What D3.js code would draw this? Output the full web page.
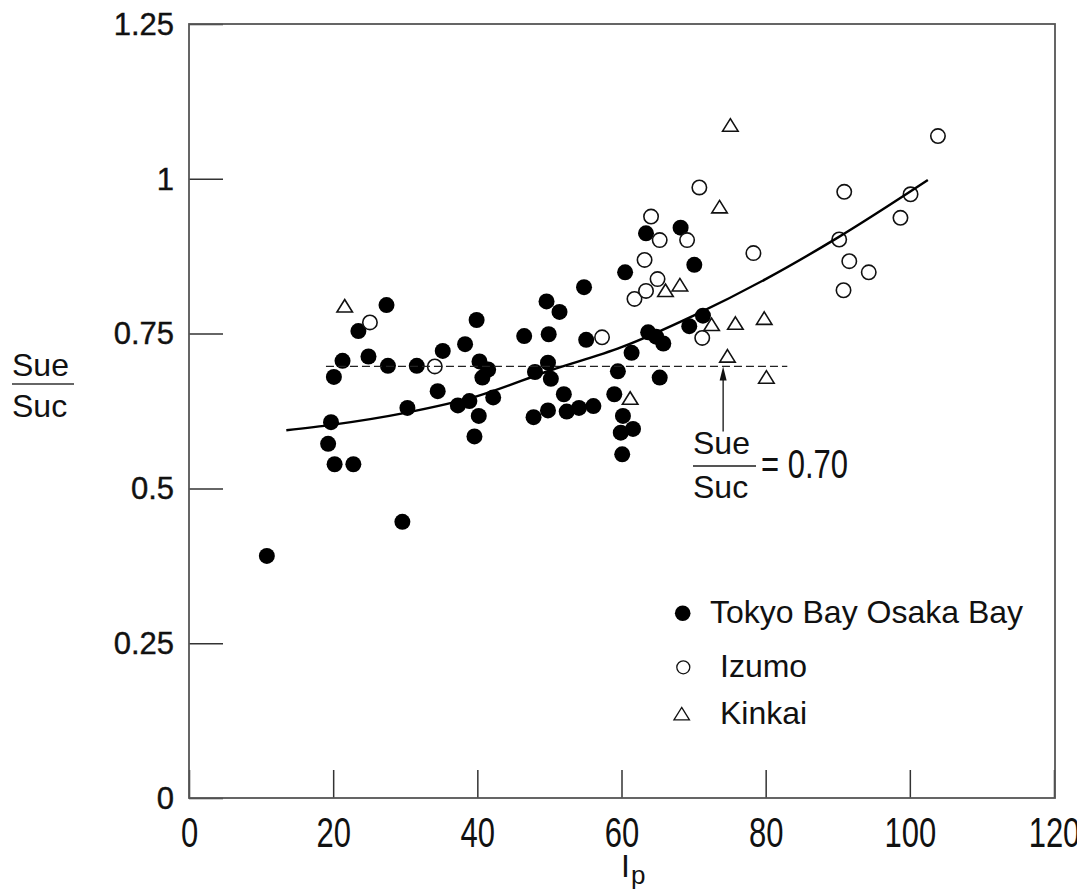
<!DOCTYPE html>
<html>
<head>
<meta charset="utf-8">
<script src="https://cdn.jsdelivr.net/npm/d3@7"></script>
<style>
  body { margin: 0; padding: 0; background: #fff; }
  svg { display: block; font-family: 'Liberation Sans', Arial, Helvetica, sans-serif; }
</style>
</head>
<body>
<div id="main"></div>
<script>
// [Ip, Sue/Suc]
const tokyoOsakaBay = [
    [27.4,0.796],[23.5,0.754],[21.3,0.706],[20.1,0.680],[24.9,0.713],[27.6,0.698],[19.7,0.607],[19.3,0.572],
    [20.2,0.539],[22.8,0.539],[31.6,0.698],[35.2,0.722],[34.5,0.657],[30.3,0.630],[38.3,0.733],[39.9,0.772],
    [40.3,0.705],[41.5,0.692],[40.7,0.679],[37.3,0.634],[38.9,0.641],[42.2,0.647],[40.2,0.617],[39.6,0.584],
    [46.5,0.746],[49.6,0.802],[51.4,0.785],[49.9,0.749],[49.8,0.703],[48.0,0.688],[50.2,0.677],[52.0,0.652],
    [47.8,0.615],[49.8,0.626],[52.4,0.624],[54.1,0.630],[56.1,0.633],[54.8,0.825],[55.1,0.740],[60.5,0.849],
    [59.5,0.689],[59.0,0.652],[60.2,0.617],[59.9,0.590],[60.1,0.555],[61.4,0.719],[63.4,0.912],[68.2,0.921],
    [70.1,0.861],[71.3,0.779],[69.4,0.762],[63.7,0.752],[64.8,0.745],[65.8,0.734],[65.3,0.679],[61.6,0.596],
    [10.8,0.391],[29.6,0.446]
];
const izumo = [
    [25.1,0.768],[34.1,0.697],[57.3,0.744],[61.8,0.806],[63.4,0.819],[65.0,0.838],[63.2,0.869],[64.1,0.939],
    [65.3,0.901],[69.1,0.901],[70.8,0.986],[71.2,0.743],[78.3,0.880],[90.2,0.902],[90.9,0.979],[91.6,0.867],
    [90.8,0.820],[94.3,0.849],[98.7,0.937],[100.1,0.975],[103.9,1.069]
];
const kinkai = [
    [21.6,0.795],[61.2,0.646],[66.1,0.820],[68.1,0.829],[72.5,0.765],[75.8,0.767],[79.8,0.775],[74.7,0.714],
    [80.1,0.680],[73.6,0.955],[75.1,1.087]
];
const trendCurve = [
    [13.5,0.594],[20,0.603],[30,0.622],[40,0.649],[50,0.690],[60,0.728],[70,0.779],[80,0.838],[90,0.905],[102.5,0.998]
];
const thresholdLine = [[19,0.697],[83,0.697]];
const arrowAt = [74.1, 0.592];
const xTicks = [0,20,40,60,80,100,120];
const yTicks = [0,0.25,0.5,0.75,1,1.25];
const yTickLabels = ['0','0.25','0.5','0.75','1','1.25'];
const legendLabels = ['Tokyo Bay Osaka Bay','Izumo','Kinkai'];

const WIDTH = 1077, HEIGHT = 891;
const [LEFT, RIGHT, TOP, BOTTOM] = [189, 1054, 24, 798];

const svg = d3.select('#main').append('svg').attr('width', WIDTH).attr('height', HEIGHT);
svg.append('rect').attr('width', WIDTH).attr('height', HEIGHT).attr('fill', '#fff');

const x = d3.scaleLinear().domain([0, 120]).range([LEFT, RIGHT]);
const y = d3.scaleLinear().domain([0, 1.25]).range([BOTTOM, TOP]);

// x axis, ticks pointing inwards, tall labels
const xAxis = svg.append('g').attr('transform', `translate(0,${BOTTOM})`)
    .call(d3.axisBottom(x).tickValues(xTicks).tickSize(-28).tickSizeOuter(0));
xAxis.attr('font-family', null).attr('font-size', 31);
xAxis.select('.domain').remove();
xAxis.selectAll('line').attr('stroke', '#333').attr('stroke-width', 1.5);
xAxis.selectAll('text').attr('y', null).attr('dy', null)
    .attr('transform', 'translate(0,49) scale(1,1.37)')
    .attr('fill', '#111');

const yAxis = svg.append('g').attr('transform', `translate(${LEFT},0)`)
    .call(d3.axisLeft(y).tickValues(yTicks).tickSize(-34).tickSizeOuter(0).tickFormat((d, i) => yTickLabels[i]));
yAxis.attr('font-family', null).attr('font-size', 31);
yAxis.select('.domain').remove();
yAxis.selectAll('line').attr('stroke', '#333').attr('stroke-width', 1.5);
yAxis.selectAll('text').attr('x', -15).attr('dy', '0.33em').attr('fill', '#111')
    .attr('stroke', '#111').attr('stroke-width', 0.4);

// frame
svg.append('rect')
    .attr('x', LEFT).attr('y', TOP)
    .attr('width', RIGHT - LEFT + 1).attr('height', BOTTOM - TOP)
    .attr('fill', 'none').attr('stroke', '#555').attr('stroke-width', 1.8);

const triPath = (cx, cy, w, h) => `M${cx},${cy - h / 2}L${cx + w / 2},${cy + h / 2}L${cx - w / 2},${cy + h / 2}Z`;

svg.append('g').selectAll('circle').data(tokyoOsakaBay).enter().append('circle')
    .attr('cx', d => x(d[0])).attr('cy', d => y(d[1])).attr('r', 8).attr('fill', '#000');

svg.append('g').selectAll('circle').data(izumo).enter().append('circle')
    .attr('cx', d => x(d[0])).attr('cy', d => y(d[1])).attr('r', 7.2)
    .attr('fill', '#fff').attr('stroke', '#111').attr('stroke-width', 1.6);

svg.append('g').selectAll('path').data(kinkai).enter().append('path')
    .attr('d', d => triPath(x(d[0]), y(d[1]), 15.5, 12.5))
    .attr('fill', '#fff').attr('stroke', '#111').attr('stroke-width', 1.6).attr('stroke-linejoin', 'miter');

// Sue/Suc = 0.70 reference line
svg.append('path')
    .attr('d', d3.line().x(d => x(d[0])).y(d => y(d[1]))(thresholdLine))
    .attr('fill', 'none').attr('stroke', '#222').attr('stroke-width', 1.3).attr('stroke-dasharray', '8,4');

// fitted curve
svg.append('path')
    .attr('d', d3.line().x(d => x(d[0])).y(d => y(d[1])).curve(d3.curveMonotoneX)(trendCurve))
    .attr('fill', 'none').attr('stroke', '#000').attr('stroke-width', 2.4);

// arrow up to the dashed line
const ax = x(arrowAt[0]), tipY = y(thresholdLine[0][1]);
svg.append('line').attr('x1', ax).attr('x2', ax).attr('y1', y(arrowAt[1])).attr('y2', tipY + 8)
    .attr('stroke', '#222').attr('stroke-width', 1.4);
svg.append('path').attr('d', `M${ax},${tipY}L${ax + 3.5},${tipY + 14}L${ax - 3.5},${tipY + 14}Z`).attr('fill', '#111');

// annotation
const note = svg.append('g').attr('fill', '#111');
note.append('text').attr('x', 693).attr('y', 454).attr('font-size', 32).text('Sue');
note.append('line').attr('x1', 693).attr('x2', 756).attr('y1', 466).attr('y2', 466).attr('stroke', '#555').attr('stroke-width', 2);
note.append('text').attr('x', 693).attr('y', 498).attr('font-size', 32).text('Suc');
note.append('text').attr('transform', 'translate(761,478) scale(1,1.32)').attr('font-size', 31).text('= 0.70');

// y axis title
const yTitle = svg.append('g').attr('fill', '#111');
yTitle.append('text').attr('x', 12).attr('y', 376).attr('font-size', 32).text('Sue');
yTitle.append('line').attr('x1', 12).attr('x2', 74).attr('y1', 384).attr('y2', 384).attr('stroke', '#666').attr('stroke-width', 2.2);
yTitle.append('text').attr('x', 12).attr('y', 417).attr('font-size', 32).text('Suc');

// x axis title
const xTitle = svg.append('g').attr('fill', '#111');
xTitle.append('text').attr('x', 621).attr('y', 877).attr('font-size', 32).text('I');
xTitle.append('text').attr('x', 631).attr('y', 884).attr('font-size', 26).text('p');

// legend
const legend = svg.append('g');
legend.append('circle').attr('cx', 682.7).attr('cy', 613.3).attr('r', 7.8).attr('fill', '#000');
legend.append('circle').attr('cx', 683.3).attr('cy', 667.3).attr('r', 6.5).attr('fill', '#fff').attr('stroke', '#111').attr('stroke-width', 1.3);
legend.append('path').attr('d', triPath(681.7, 713.7, 15.5, 12.5)).attr('fill', '#fff').attr('stroke', '#111').attr('stroke-width', 1.3);
legend.selectAll('text').data(legendLabels).enter().append('text')
    .attr('x', (d, i) => i === 0 ? 710 : 720)
    .attr('y', (d, i) => [623, 677, 724][i])
    .attr('font-size', 32).attr('fill', '#111')
    .text(d => d);
</script>
</body>
</html>
